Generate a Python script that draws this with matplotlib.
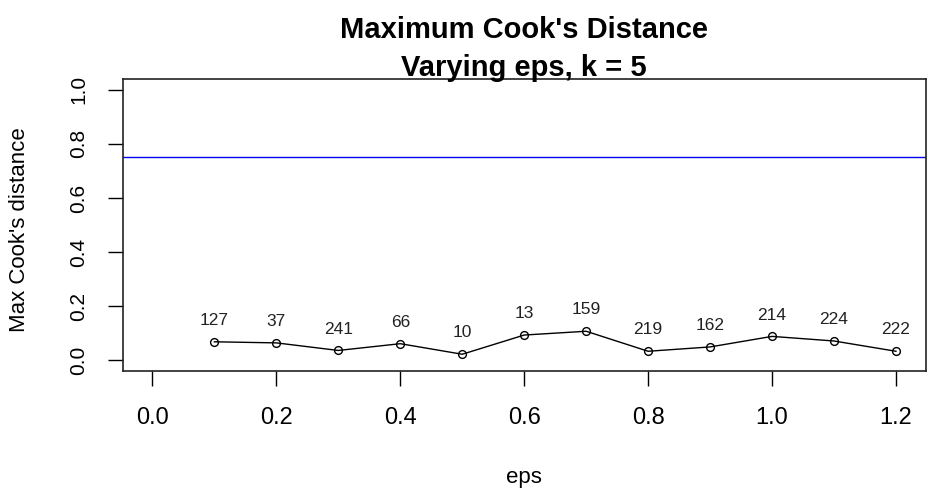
import matplotlib
matplotlib.use("Agg")
import matplotlib.pyplot as plt

eps = [0.1, 0.2, 0.3, 0.4, 0.5, 0.6, 0.7, 0.8, 0.9, 1.0, 1.1, 1.2]
max_cook = [0.068, 0.064, 0.036, 0.061, 0.022, 0.093, 0.107, 0.033, 0.049, 0.088, 0.071, 0.033]
obs_index = ["127", "37", "241", "66", "10", "13", "159", "219", "162", "214", "224", "222"]
threshold = 0.752
x_ticks = [0.0, 0.2, 0.4, 0.6, 0.8, 1.0, 1.2]
y_ticks = [0.0, 0.2, 0.4, 0.6, 0.8, 1.0]

plt.rcParams['font.family'] = ['Liberation Sans', 'DejaVu Sans']

W, H = 948, 497
L, R, T, B = 122.7, 925.7, 79, 371
fig = plt.figure(figsize=(W/100, H/100), dpi=100)
ax = fig.add_axes([L/W, 1-B/H, (R-L)/W, (B-T)/H])

ax.plot(eps, max_cook, color='black', lw=1, marker='o', markersize=5.6,
        markerfacecolor='none', markeredgecolor='black', markeredgewidth=1)
for x, y, lab in zip(eps, max_cook, obs_index):
    ax.annotate(lab, (x, y), xytext=(0, 10), textcoords='offset points',
                ha='center', va='bottom', fontsize=12.5, color='#222222')
ax.axhline(threshold, color='#0000ee', lw=1)

ax.set_xlim(-0.048, 1.248)
ax.set_ylim(-0.04, 1.04)
ax.set_xticks(x_ticks)
ax.set_xticklabels([f"{v:.1f}" for v in x_ticks])
ax.set_yticks(y_ticks)
ax.set_yticklabels([f"{v:.1f}" for v in y_ticks], rotation=90, va='center')
ax.tick_params(direction='out', length=11, width=1)
ax.tick_params(axis='x', labelsize=17, pad=15)
ax.tick_params(axis='y', labelsize=15, pad=14)
for s in ax.spines.values():
    s.set_linewidth(1.2)
    s.set_color('#222222')

cx = (L + R) / 2 / W
fig.text(cx, 1 - 478/H, "eps", ha='center', va='center', fontsize=16)
fig.text(20/W, 1 - ((T + B) / 2 + 5)/H, "Max Cook's distance", rotation=90,
         ha='center', va='center', fontsize=16)
fig.text(cx, 1 - 38/H, "Maximum Cook's Distance",
         ha='center', va='baseline', fontsize=21, fontweight='bold')
fig.text(cx, 1 - 76/H, "Varying eps, k = 5",
         ha='center', va='baseline', fontsize=21, fontweight='bold')

fig.savefig("out.png", dpi=100)
